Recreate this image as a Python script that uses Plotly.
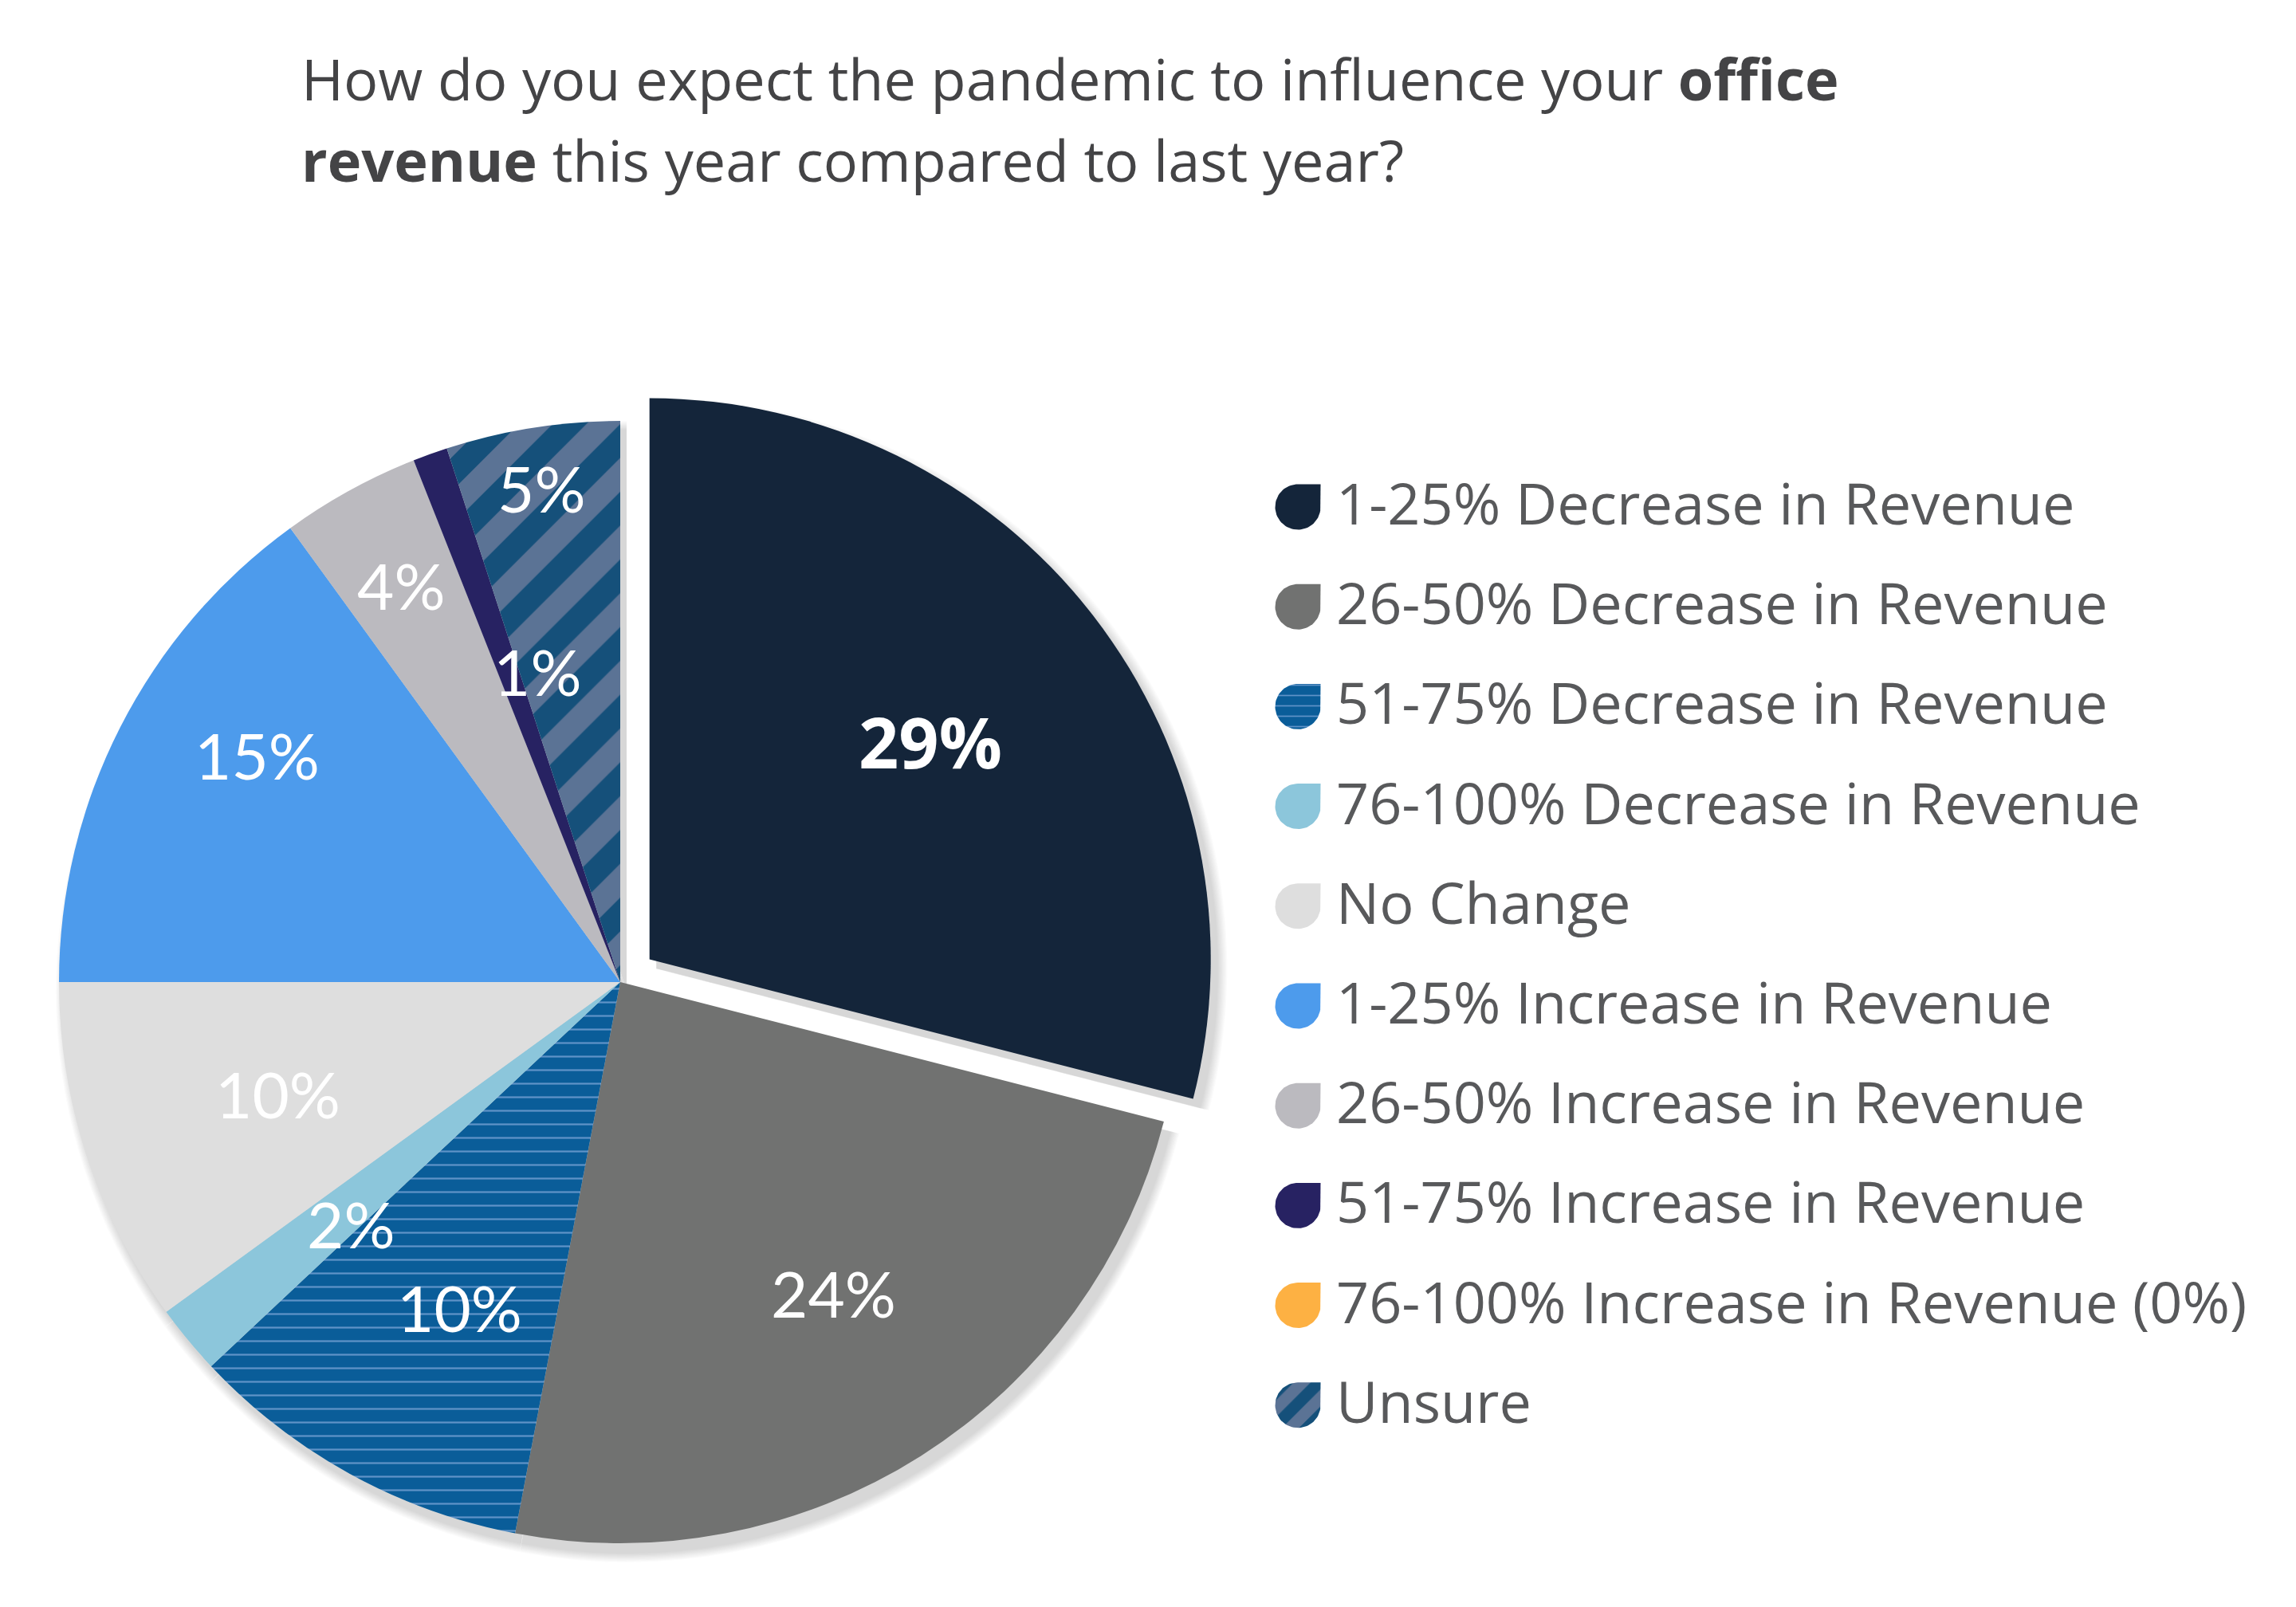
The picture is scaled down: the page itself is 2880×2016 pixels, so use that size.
import numpy as np
import plotly.graph_objects as go

# ---------------- data ----------------
categories = [
    "1-25% Decrease in Revenue",
    "26-50% Decrease in Revenue",
    "51-75% Decrease in Revenue",
    "76-100% Decrease in Revenue",
    "No Change",
    "1-25% Increase in Revenue",
    "26-50% Increase in Revenue",
    "51-75% Increase in Revenue",
    "76-100% Increase in Revenue (0%)",
    "Unsure",
]
values = [29, 24, 10, 2, 10, 15, 4, 1, 0, 5]

title_line1 = "How do you expect the pandemic to influence your <b>office</b>"
title_line2 = "<b>revenue</b> this year compared to last year?"

# ---------------- style ----------------
colors = ["#14253a", "#717271", "#0a5d99", "#8cc6db", "#dedede",
          "#4d9bec", "#bbbabf", "#272262", "#fdb143", "#15507a"]
pat_shape = ["", "", "-", "", "", "", "", "", "", "/"]
pat_fg = ["#ffffff", "#ffffff", "#5f93c8", "#ffffff", "#ffffff",
          "#ffffff", "#ffffff", "#ffffff", "#ffffff", "#5b7395"]
pat_size = [10, 10, 17, 10, 10, 10, 10, 10, 10, 60]
pat_sol = [0.3, 0.3, 0.13, 0.3, 0.3, 0.3, 0.3, 0.3, 0.3, 0.5]
pull_first = 0.066
label_r = [0.633, 0.672, 0.647, 0.644, 0.642, 0.763, 0.808, 0.573, 0.6, 0.891]
label_dang = [0, -2, -2.5, -2.3, 0, 5, 0, 5, 0, 0]   # degrees, label placement tweak

W, H = 2880, 2016
CX, CY, R = 770, 1224, 704


def clamp(v):
    return min(1.0, max(0.0, v))


def pie_domain(cx, cy, r, maxpull):
    half = r * (1 + maxpull)
    return dict(x=[clamp((cx - half) / W), clamp((cx + half) / W)],
                y=[clamp(1 - (cy + half) / H), clamp(1 - (cy - half) / H)])


pulls = [pull_first] + [0] * (len(values) - 1)

fig = go.Figure()

# soft drop shadow (stacked translucent copies of the pie)
n_sh = 10
for k in range(n_sh, 0, -1):
    rr = R + 1.2 * k
    fig.add_trace(go.Pie(
        values=values, labels=categories, sort=False, direction="clockwise",
        pull=pulls, textinfo="none", hoverinfo="skip", showlegend=False,
        marker=dict(colors=["rgba(0,0,0,0.016)"] * len(values), line=dict(width=0)),
        domain=pie_domain(CX + 8, CY + 12, rr, pull_first),
    ))

# main pie
fig.add_trace(go.Pie(
    values=values, labels=categories, sort=False, direction="clockwise",
    pull=pulls, textinfo="none", showlegend=False,
    marker=dict(colors=colors, line=dict(width=0),
                pattern=dict(shape=pat_shape, fgcolor=pat_fg, bgcolor=colors,
                             size=pat_size, solidity=pat_sol)),
    domain=pie_domain(CX, CY, R, pull_first),
))

annotations = []

# slice labels, positioned from the cumulative values
total = float(sum(values))
cum = 0.0
for i, v in enumerate(values):
    mid = (cum + v / 2.0) / total * 2 * np.pi
    cum += v
    if v <= 0:
        continue
    cx, cy = CX, CY
    if pulls[i] > 0:
        cx += pulls[i] * R * np.sin(mid)
        cy -= pulls[i] * R * np.cos(mid)
    ang = mid + np.radians(label_dang[i])
    rr = label_r[i] * R
    x = cx + rr * np.sin(ang)
    y = cy - rr * np.cos(ang)
    bold = (i == 0)
    annotations.append(dict(
        x=x / W, y=1 - y / H, xref="paper", yref="paper",
        text=(f"<b>{v}%</b>" if bold else f"{v}%"), showarrow=False,
        xanchor="center", yanchor="middle",
        font=dict(family="Open Sans" if bold else "Lato", size=88 if bold else 80,
                  color="white", weight=700 if bold else 400),
    ))

# title
annotations.append(dict(x=368 / W, y=1 - 90 / H, xref="paper", yref="paper",
                        text=title_line1, showarrow=False, xanchor="left", yanchor="middle",
                        font=dict(family="Open Sans", size=72, color="#444446")))
annotations.append(dict(x=368 / W, y=1 - 192 / H, xref="paper", yref="paper",
                        text=title_line2, showarrow=False, xanchor="left", yanchor="middle",
                        font=dict(family="Open Sans", size=72, color="#444446")))

# custom legend: leaf-shaped swatches + text
LX, LY0, LDY, LS = 1620, 628, 125.2, 28.5
t = np.linspace(0, 1.5 * np.pi, 60)
for i, name in enumerate(categories):
    my = LY0 + i * LDY
    xs = [LX + LS, LX + LS] + list(LX + LS * np.cos(t)) + [LX + LS]
    ys = [my - LS, my] + list(my + LS * np.sin(t)) + [my - LS]
    kw = {}
    if pat_shape[i]:
        kw["fillpattern"] = dict(shape=pat_shape[i], bgcolor=colors[i], fgcolor=pat_fg[i],
                                 size=30 if i == 9 else 13,
                                 solidity=pat_sol[i], fillmode="replace")
    fig.add_trace(go.Scatter(
        x=xs, y=ys, mode="lines", fill="toself", fillcolor=colors[i],
        line=dict(width=0, color=colors[i]), hoverinfo="skip", showlegend=False, **kw))
    annotations.append(dict(
        x=1666 / W, y=1 - (my - 6) / H, xref="paper", yref="paper",
        text=name, showarrow=False, xanchor="left", yanchor="middle",
        font=dict(family="Open Sans", size=72, color="#58595b")))

fig.update_layout(
    width=W, height=H,
    margin=dict(l=0, r=0, t=0, b=0),
    paper_bgcolor="white", plot_bgcolor="rgba(0,0,0,0)",
    xaxis=dict(range=[0, W], visible=False, fixedrange=True, domain=[0, 1]),
    yaxis=dict(range=[H, 0], visible=False, fixedrange=True, domain=[0, 1]),
    annotations=annotations,
    showlegend=False,
)

fig.write_html("out.html")
